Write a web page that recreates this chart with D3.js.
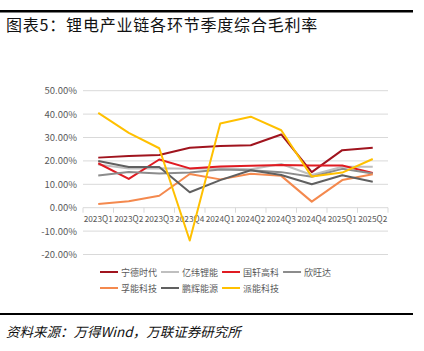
<!DOCTYPE html>
<html>
<head>
<meta charset="utf-8">
<script src="https://cdn.jsdelivr.net/npm/d3@7"></script>
<style>
  body { margin: 0; background: #fff; }
  svg { display: block; font-family: "Noto Sans CJK SC", "Noto Sans", sans-serif; }
</style>
</head>
<body>
<div id="chart"></div>
<script>
const quarters = ["2023Q1", "2023Q2", "2023Q3", "2023Q4", "2024Q1", "2024Q2", "2024Q3", "2024Q4", "2025Q1", "2025Q2"];
const yTicks = [-20, -10, 0, 10, 20, 30, 40, 50];

const catl     = [21.4, 22.1, 22.5, 25.6, 26.4, 26.7, 31.3, 15.2, 24.6, 25.6];
const eve      = [18.5, 16.8, 16.9, 16.6, 16.9, 16.4, 18.7, 14.0, 17.5, 17.5];
const gotion   = [19.0, 12.3, 20.6, 16.8, 17.6, 17.9, 18.2, 18.0, 18.0, 14.8];
const sunwoda  = [13.8, 15.3, 14.6, 15.0, 16.3, 16.0, 15.2, 13.2, 16.6, 14.6];
const farasis  = [1.6, 2.8, 5.1, 14.4, 12.1, 14.5, 13.6, 2.6, 11.8, 14.3];
const greatPow = [20.0, 17.4, 17.4, 6.6, 11.8, 16.0, 14.0, 10.0, 13.9, 11.1];
const pylon    = [40.5, 32.0, 25.4, -14.0, 36.0, 38.9, 33.1, 13.3, 15.0, 20.8];

const seriesNames = ["宁德时代", "亿纬锂能", "国轩高科", "欣旺达", "孚能科技", "鹏辉能源", "派能科技"];
const seriesValues = [catl, eve, gotion, sunwoda, farasis, greatPow, pylon];
const seriesColors = ["#A0141E", "#BFBFBF", "#E01B22", "#8C8C8C", "#F4894E", "#606060", "#FFC000"];

const W = 424, H = 351;
const plot = { left: 83, right: 388, top: 90.7, bottom: 254.5 };

const svg = d3.select("#chart").append("svg")
    .attr("width", W)
    .attr("height", H);

// header / footer rules
svg.append("rect").attr("x", 0).attr("y", 10).attr("width", 413).attr("height", 2.5).attr("fill", "#000");
svg.append("rect").attr("x", 0).attr("y", 313).attr("width", 413).attr("height", 2).attr("fill", "#000");

svg.append("text")
    .attr("x", 6).attr("y", 31)
    .attr("font-size", "16px")
    .attr("letter-spacing", "0.8px")
    .attr("fill", "#111")
    .text("图表5：锂电产业链各环节季度综合毛利率");

svg.append("text")
    .attr("x", 6).attr("y", 337)
    .attr("font-size", "13.5px")
    .attr("font-style", "italic")
    .attr("fill", "#111")
    .text("资料来源：万得Wind，万联证券研究所");

const x = d3.scaleBand().domain(quarters).range([plot.left, plot.right]);
const y = d3.scaleLinear().domain([-20, 50]).range([plot.bottom, plot.top]);

// grid lines
svg.append("g")
    .selectAll("line")
    .data(yTicks.filter(d => d !== 0))
    .enter()
    .append("line")
    .attr("x1", plot.left).attr("x2", plot.right)
    .attr("y1", d => y(d)).attr("y2", d => y(d))
    .attr("stroke", "#D9D9D9")
    .attr("stroke-width", 1);

// y labels
svg.append("g")
    .selectAll("text")
    .data(yTicks)
    .enter()
    .append("text")
    .attr("x", 77)
    .attr("y", d => y(d) + 3.5)
    .attr("text-anchor", "end")
    .attr("font-size", "9.5px")
    .attr("fill", "#595959")
    .text(d => d.toFixed(2) + "%");

// category axis at 0
const xAxis = svg.append("g")
    .attr("transform", "translate(0," + y(0) + ")");
xAxis.append("line")
    .attr("x1", plot.left).attr("x2", plot.right)
    .attr("stroke", "#D9D9D9");
xAxis.selectAll(".tick")
    .data(quarters.concat(["end"]))
    .enter()
    .append("line")
    .attr("x1", (d, i) => plot.left + i * x.step())
    .attr("x2", (d, i) => plot.left + i * x.step())
    .attr("y1", 0).attr("y2", 5)
    .attr("stroke", "#D9D9D9");
xAxis.selectAll("text")
    .data(quarters)
    .enter()
    .append("text")
    .attr("x", d => x(d) + x.bandwidth() / 2)
    .attr("y", 14)
    .attr("text-anchor", "middle")
    .attr("font-size", "8.3px")
    .attr("fill", "#595959")
    .text(d => d);

// series lines
const line = d3.line()
    .x((d, i) => x(quarters[i]) + x.bandwidth() / 2)
    .y(d => y(d));

svg.append("g")
    .selectAll("path")
    .data(seriesValues)
    .enter()
    .append("path")
    .attr("d", d => line(d))
    .attr("fill", "none")
    .attr("stroke", (d, i) => seriesColors[i])
    .attr("stroke-width", 2)
    .attr("stroke-linejoin", "round");

// legend
const legendRows = [[0, 1, 2, 3], [4, 5, 6]];
legendRows.forEach((row, r) => {
    let cx = 100;
    const ly = 272 + r * 16;
    row.forEach(idx => {
        svg.append("line")
            .attr("x1", cx).attr("x2", cx + 18)
            .attr("y1", ly).attr("y2", ly)
            .attr("stroke", seriesColors[idx])
            .attr("stroke-width", 2);
        const t = svg.append("text")
            .attr("x", cx + 21)
            .attr("y", ly + 3.5)
            .attr("font-size", "9px")
            .attr("fill", "#595959")
            .text(seriesNames[idx]);
        cx += 21 + t.node().getComputedTextLength() + 4;
    });
});
</script>
</body>
</html>
